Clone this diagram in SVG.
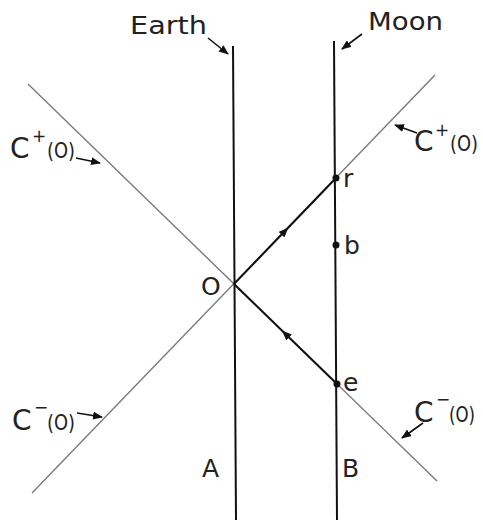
<svg xmlns="http://www.w3.org/2000/svg" width="483" height="521" viewBox="0 0 483 521">
<defs>
<marker id="ah" markerWidth="10" markerHeight="8" refX="9" refY="4" orient="auto" markerUnits="userSpaceOnUse"><path d="M0,0 L10,4 L0,8 Z" fill="#111"/></marker>
<marker id="mid" markerWidth="10" markerHeight="8" refX="5" refY="4" orient="auto" markerUnits="userSpaceOnUse"><path d="M0,0 L10,4 L0,8 Z" fill="#111"/></marker>
</defs>
<style>
.cone{stroke:#7a7a7a;stroke-width:1.4;fill:none}
.wl{stroke:#111;stroke-width:2;fill:none}
.lbl{stroke:#111;stroke-width:1.6;fill:none}
text{font-family:"DejaVu Sans","Liberation Sans",sans-serif;fill:#222;font-size:25px}
.big{font-size:28px}
.sup{font-size:17px}
.par{font-size:22px}
</style>
<rect width="483" height="521" fill="#fff"/>
<g id="connectors">
<line class="cone" x1="28" y1="84" x2="437" y2="481"/>
<line class="cone" x1="435" y1="75" x2="32" y2="493"/>
<line class="wl" x1="233" y1="46" x2="236" y2="520"/>
<line class="wl" x1="334" y1="41" x2="337" y2="520"/>
<polyline class="wl" points="234,284 285,231 336,178" marker-mid="url(#mid)"/>
<polyline class="wl" points="337,384 285.5,334 234,284" marker-mid="url(#mid)"/>
<line class="lbl" x1="208" y1="38" x2="228" y2="54" marker-end="url(#ah)"/>
<line class="lbl" x1="362" y1="34" x2="342" y2="49" marker-end="url(#ah)"/>
<line class="lbl" x1="76" y1="158" x2="100" y2="163" marker-end="url(#ah)"/>
<line class="lbl" x1="417" y1="133" x2="395" y2="125" marker-end="url(#ah)"/>
<line class="lbl" x1="77" y1="413" x2="102" y2="417" marker-end="url(#ah)"/>
<line class="lbl" x1="423" y1="423" x2="402" y2="438" marker-end="url(#ah)"/>
</g>
<g id="earth"><text x="130" y="34" textLength="77" lengthAdjust="spacingAndGlyphs">Earth</text></g>
<g id="moon"><text x="368" y="30" textLength="75" lengthAdjust="spacingAndGlyphs">Moon</text></g>
<g id="r"><circle cx="336" cy="178" r="3.5" fill="#111"/><text x="343" y="187">r</text></g>
<g id="b"><circle cx="336" cy="245" r="3.5" fill="#111"/><text x="344" y="254">b</text></g>
<g id="e"><circle cx="337" cy="384" r="3.5" fill="#111"/><text x="343" y="391">e</text></g>
<g id="O"><text x="201" y="295">O</text></g>
<g id="A"><text x="202" y="477">A</text></g>
<g id="B"><text x="342" y="477">B</text></g>
<g id="cplus-left"><text class="big" x="10" y="158">C</text><text class="sup" x="32" y="142">+</text><text class="par" x="47" y="158" textLength="28" lengthAdjust="spacingAndGlyphs">(O)</text></g>
<g id="cplus-right"><text class="big" x="414" y="151">C</text><text class="sup" x="435" y="136">+</text><text class="par" x="450" y="151" textLength="28" lengthAdjust="spacingAndGlyphs">(O)</text></g>
<g id="cminus-left"><text class="big" x="12" y="430">C</text><text class="sup" x="34" y="413">−</text><text class="par" x="47" y="430" textLength="28" lengthAdjust="spacingAndGlyphs">(O)</text></g>
<g id="cminus-right"><text class="big" x="414" y="422">C</text><text class="sup" x="436" y="405">−</text><text class="par" x="449" y="422" textLength="26" lengthAdjust="spacingAndGlyphs">(O)</text></g>
</svg>
